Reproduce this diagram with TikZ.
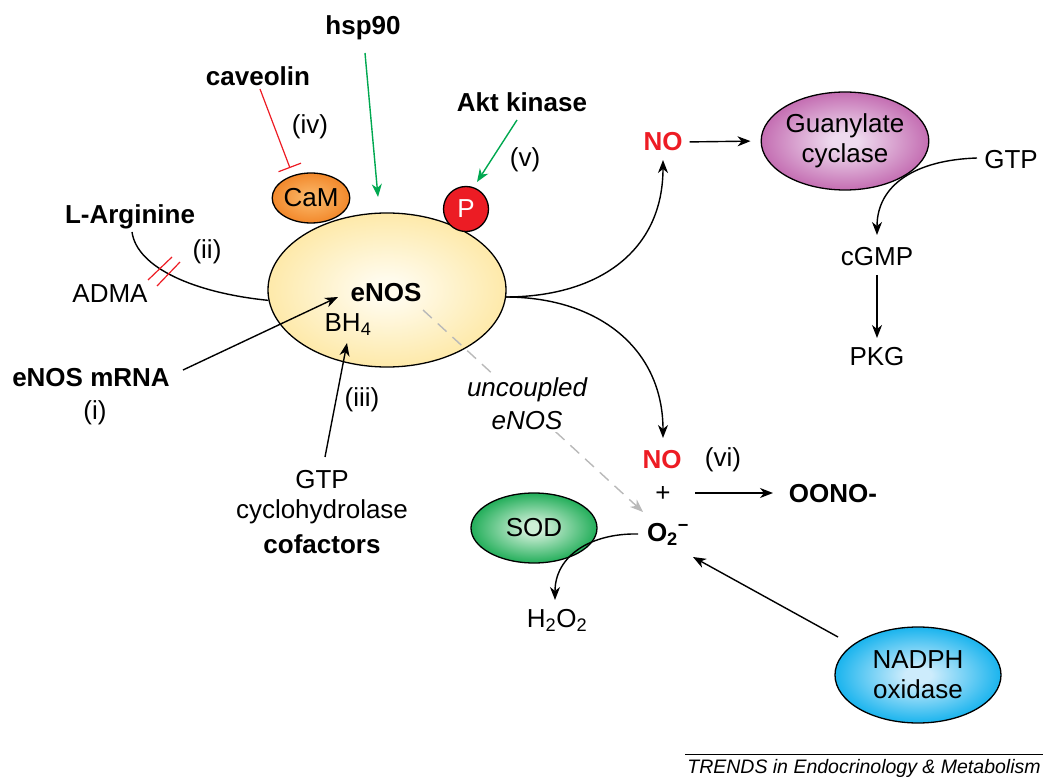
\documentclass[tikz,border=0pt]{standalone}
\usepackage{fontspec}
\setmainfont{Liberation Sans}
\usetikzlibrary{arrows.meta,shapes.geometric}
\definecolor{nored}{RGB}{237,28,36}
\definecolor{akgreen}{RGB}{0,168,80}
\definecolor{enosin}{RGB}{255,251,236}
\definecolor{enosout}{RGB}{253,224,135}
\definecolor{camin}{RGB}{250,180,100}
\definecolor{camout}{RGB}{241,130,35}
\definecolor{pred}{RGB}{236,28,36}
\definecolor{gcin}{RGB}{238,218,238}
\definecolor{gcout}{RGB}{186,84,164}
\definecolor{sodin}{RGB}{205,238,214}
\definecolor{sodout}{RGB}{10,165,72}
\definecolor{naddin}{RGB}{205,236,252}
\definecolor{naddout}{RGB}{0,172,236}
\definecolor{dashgray}{RGB}{185,185,185}
\pgfdeclareradialshading{enosshade}{\pgfpoint{0bp}{0bp}}{color(0bp)=(enosin); color(4bp)=(enosin); color(36bp)=(enosout); color(50bp)=(enosout)}
\pgfdeclareradialshading{camshade}{\pgfpoint{0bp}{0bp}}{color(0bp)=(camin); color(4bp)=(camin); color(28bp)=(camout); color(50bp)=(camout)}
\pgfdeclareradialshading{gcshade}{\pgfpoint{0bp}{0bp}}{color(0bp)=(gcin); color(4bp)=(gcin); color(30bp)=(gcout); color(50bp)=(gcout)}
\pgfdeclareradialshading{sodshade}{\pgfpoint{0bp}{0bp}}{color(0bp)=(sodin); color(4bp)=(sodin); color(28bp)=(sodout); color(50bp)=(sodout)}
\pgfdeclareradialshading{naddshade}{\pgfpoint{0bp}{0bp}}{color(0bp)=(naddin); color(4bp)=(naddin); color(28bp)=(naddout); color(50bp)=(naddout)}
\begin{document}
\begin{tikzpicture}[x=1pt,y=-1pt,
  every node/.style={font=\fontsize{26}{30}\selectfont, inner sep=1pt},
  bold/.style={font=\fontsize{26}{30}\selectfont\bfseries},
  blob/.style={ellipse, draw, line width=1.3pt, inner sep=0pt},
  con/.style={line width=1.4pt},
  arr/.style={con, -{Stealth[length=13pt,width=10pt,inset=4pt]}},
  garr/.style={arr, draw=akgreen, color=akgreen},
  inh/.style={line width=1.2pt, draw=nored, -{Bar[width=24pt,line width=1.2pt]}},
  darr/.style={line width=1.4pt, draw=dashgray, color=dashgray, dash pattern=on 12pt off 8pt, -{Stealth[length=13pt,width=10pt,inset=4pt]}},
]
\useasboundingbox (0,0) rectangle (1050,783);

% main blobs
\node[blob, shading=enosshade, minimum width=238pt, minimum height=154pt] (enos) at (387,290) {};
\node[blob, shading=camshade, minimum width=66pt, minimum height=50pt] (cam) at (311,198) {CaM};
\node[blob, circle, fill=pred, minimum size=45pt, text=white] (p) at (466,209) {P};
\node[bold] (enostxt) at (386,293) {eNOS};
\node (bh4) at (348,325) {BH\textsubscript{4}};

% top labels
\node[bold] (hsp) at (363,28) {hsp90};
\node[bold] (cav) at (258,76) {caveolin};
\node (iv) at (310,127) {(iv)};
\node[bold] (akt) at (522,102) {Akt kinase};
\node (v) at (525,160) {(v)};

% left labels
\node[bold] (larg) at (130,217) {L-Arginine};
\node (ii) at (207,252) {(ii)};
\node (adma) at (110,294) {ADMA};
\node[bold] (mrna) at (91,378) {eNOS mRNA};
\node (i) at (95,413) {(i)};
\node (iii) at (362,400) {(iii)};
\node (gtp1) at (322,480) {GTP};
\node (cyclo) at (322,512) {cyclohydrolase};
\node[bold] (cof) at (322,544) {cofactors};

% right side
\node[bold, text=nored] (no1) at (663,142) {NO};
\node[blob, shading=gcshade, minimum width=166pt, minimum height=98pt, align=center] (gc) at (845,141) {Guanylate\\cyclase};
\node (gtp) at (1011,160) {GTP};
\node (cgmp) at (877,257) {cGMP};
\node (pkg) at (877,357) {PKG};
\node[bold, text=nored] (no2) at (662,460) {NO};
\node (vi) at (723,460) {(vi)};
\node (plus) at (663,494) {+};
\node[bold] (oono) at (833,494) {OONO-};
\node[bold] (o2) at (668,534) {O\textsubscript{2}\textsuperscript{−}};
\node[blob, shading=sodshade, minimum width=126pt, minimum height=70pt] (sod) at (534,528) {SOD};
\node (h2o2) at (557,620) {H\textsubscript{2}O\textsubscript{2}};
\node[blob, shading=naddshade, minimum width=166pt, minimum height=96pt, align=center] (nadph) at (918,675) {NADPH\\oxidase};

% connectors
\coordinate (a1) at (132,232);
\draw[con] (a1) .. controls (137,268) and (195,293) .. (enos.185);
\coordinate (b1s) at (148,280); \coordinate (b1e) at (172,257);
\coordinate (b2s) at (157,286); \coordinate (b2e) at (180,262);
\draw[line width=1.2pt, nored] (b1s) -- (b1e);
\draw[line width=1.2pt, nored] (b2s) -- (b2e);

\coordinate (m1) at (183,370); \coordinate (m2) at (338,297);
\draw[arr] (m1) -- (m2);
\coordinate (c1) at (325,457); \coordinate (c2) at (347,343);
\draw[arr] (c1) -- (c2);

\coordinate (h1) at (365,53); \coordinate (h2) at (378,197);
\draw[garr] (h1) -- (h2);
\coordinate (k1) at (517,120); \coordinate (k2) at (477,182);
\draw[garr] (k1) -- (k2);
\coordinate (v1) at (260,89); \coordinate (v2) at (290,168);
\draw[inh] (v1) -- (v2);

\coordinate (e1) at (505,297);
\coordinate (n1) at (663,160);
\coordinate (n2) at (663,438);
\draw[arr] (e1) .. controls (600,297) and (663,250) .. (n1);
\draw[arr] (e1) .. controls (600,297) and (663,350) .. (n2);
\draw[arr, shorten <=6pt, shorten >=10pt] (no1.east) -- (gc.west);

\coordinate (g1) at (977,158); \coordinate (g2) at (877,235);
\draw[arr] (g1) .. controls (915,160) and (877,185) .. (g2);
\coordinate (p1) at (877,275); \coordinate (p2) at (877,338);
\draw[arr] (p1) -- (p2);

\coordinate (o1) at (695,493); \coordinate (o2e) at (773,493);
\draw[arr] (o1) -- (o2e);
\coordinate (s1) at (638,534); \coordinate (s2) at (555,600);
\draw[arr] (s1) .. controls (592,533) and (555,555) .. (s2);
\coordinate (d1) at (838,637); \coordinate (d2) at (693,557);
\draw[arr] (d1) -- (d2);

\coordinate (u1) at (423,310); \coordinate (u2) at (643,512);
\draw[darr] (u1) -- (u2);
\node[font=\fontsize{26}{33}\selectfont\itshape, align=center, fill=white, inner sep=2pt] (unc) at (527,404) {uncoupled\\eNOS};

% footer
\coordinate (f1) at (685,754); \coordinate (f2) at (1043,754);
\draw[line width=0.8pt] (f1) -- (f2);
\node[font=\fontsize{19.5}{22}\selectfont\itshape] (trends) at (864,768) {TRENDS in Endocrinology \& Metabolism};
\end{tikzpicture}
\end{document}
